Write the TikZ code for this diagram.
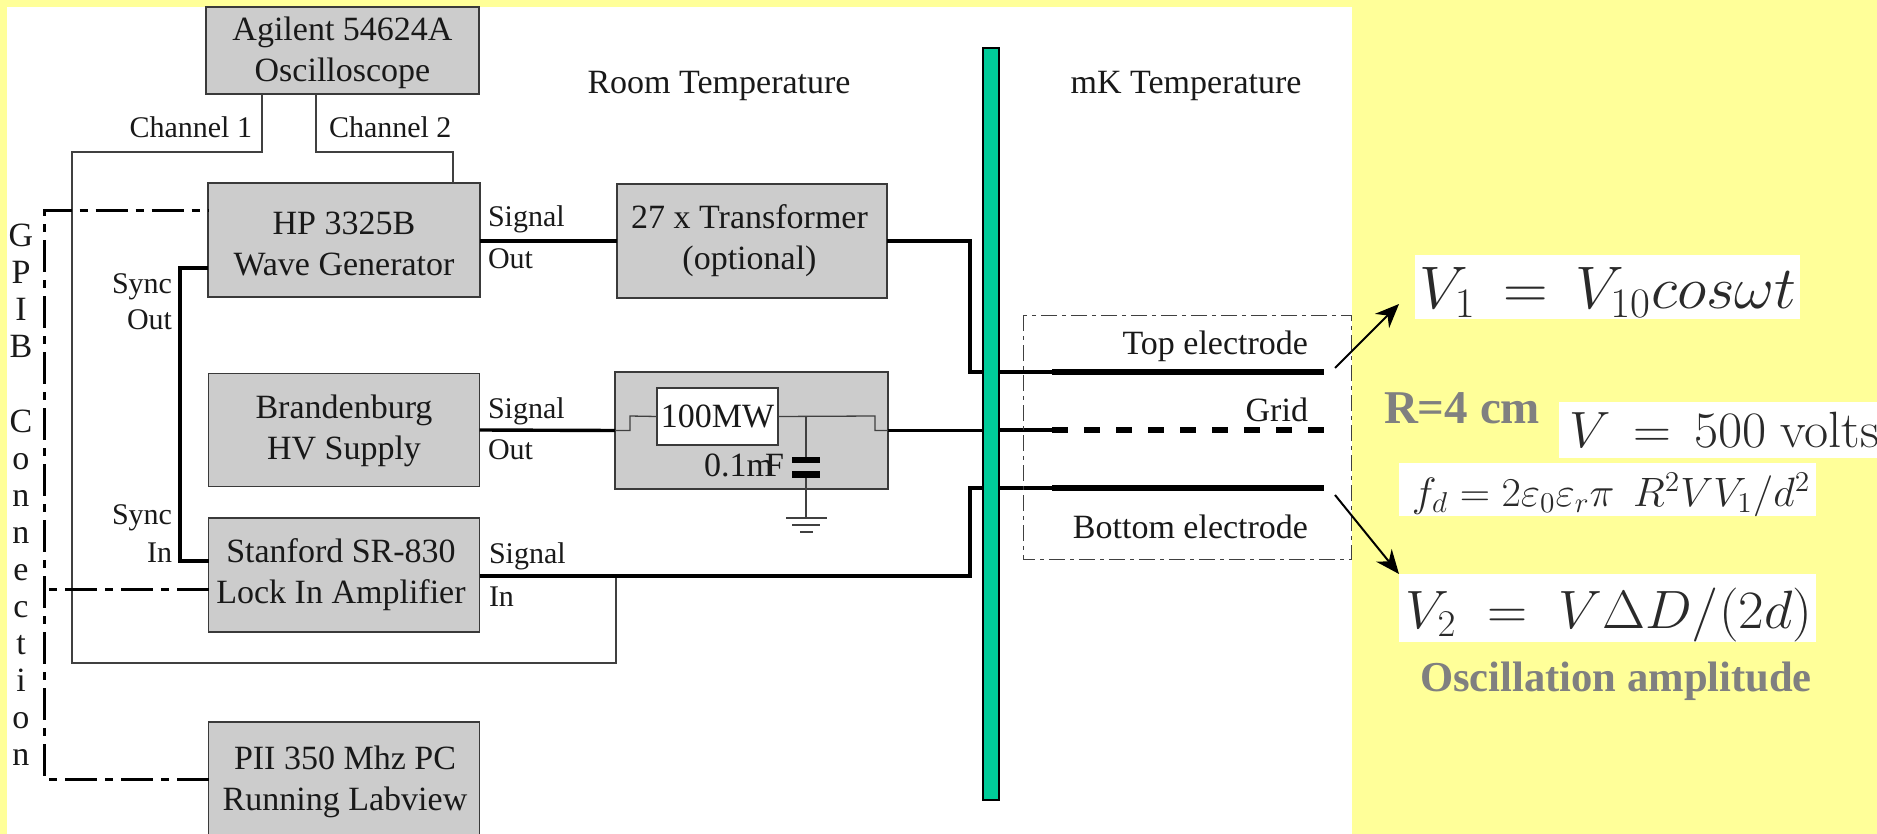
\documentclass[tikz,border=0pt]{standalone}
\usepackage{fix-cm}
\usepackage[no-math]{fontspec}
\setmainfont{Liberation Serif}
\usetikzlibrary{arrows.meta}
\definecolor{bgyellow}{HTML}{FFFF99}
\definecolor{boxfill}{HTML}{CCCCCC}
\definecolor{boxedge}{HTML}{3A3A3A}
\definecolor{barfill}{HTML}{00CC99}
\definecolor{graytext}{HTML}{808080}
\definecolor{mathtext}{HTML}{2A2A2A}
\tikzset{
  dev/.style={draw=boxedge,fill=boxfill,line width=.75pt,inner sep=0pt,outer sep=0pt},
  devtxt/.style={inner sep=0pt,outer sep=0pt,align=center,text=black!90,font=\fontsize{17}{20.5}\selectfont},
  lab/.style={inner sep=0pt,outer sep=0pt,text=black!90,font=\fontsize{15}{18}\selectfont},
  labbig/.style={inner sep=0pt,outer sep=0pt,text=black!90,font=\fontsize{17}{21}\selectfont},
  thin wire/.style={draw=black!75,line width=.65pt},
  mid wire/.style={draw=black,line width=1.6pt},
  sync wire/.style={draw=black,line width=1.7pt},
  signal wire/.style={draw=black,line width=1.7pt},
  gpib/.style={draw=black,line width=1.5pt,dash pattern=on 16pt off 4pt on 4pt off 4pt},
  plate/.style={draw=black,line width=3pt},
  mathbox/.style={fill=white,inner sep=0pt,outer sep=0pt},
  mathtxt/.style={inner sep=0pt,outer sep=0pt,text=mathtext},
  grayb/.style={inner sep=0pt,outer sep=0pt,text=graytext},
  callout/.style={draw=black,line width=1pt,-{Stealth[length=12pt,width=10pt]}}
}
\begin{document}
\begin{tikzpicture}[x=0.5pt,y=-0.5pt]
\clip (0,0) rectangle (1877,834);
\fill[bgyellow] (0,0) rectangle (1877,834);
\fill[white] (7,7) rectangle (1352,834);

% coordinates
\coordinate (topL) at (1052,372);
\coordinate (topR) at (1324,372);
\coordinate (gridL) at (1052,430);
\coordinate (gridR) at (1324,430);
\coordinate (botL) at (1052,488);
\coordinate (botR) at (1324,488);
\coordinate (gA) at (44,211);
\coordinate (gB) at (44,589);
\coordinate (gC) at (44,779);
\coordinate (ch1a) at (262,152);
\coordinate (ch1b) at (72,152);
\coordinate (ch1c) at (72,663);
\coordinate (ch1d) at (616,663);
\coordinate (ch2a) at (316,152);
\coordinate (ch2b) at (453,152);
\coordinate (syncA) at (180,268);
\coordinate (syncB) at (180,561);
\coordinate (sigR) at (970,241);
\coordinate (sigI) at (970,576);
\coordinate (rcL) at (630,416);
\coordinate (rcR) at (875,416);
\coordinate (capJ) at (806,416);
\coordinate (capT) at (806,457);
\coordinate (capB) at (806,478);
\coordinate (gnd) at (806,518);

% devices
\node[dev,minimum width=136.5pt,minimum height=43.5pt] (scope) at (342.5,50.5) {};
\node[devtxt] (scopet) at (342.5,53) {Agilent 54624A\\Oscilloscope};
\node[dev,minimum width=136pt,minimum height=57pt] (hp) at (344,240) {};
\node[devtxt] (hpt) at (344,244) {HP 3325B\\Wave Generator};
\node[dev,minimum width=135.5pt,minimum height=56.5pt] (hv) at (344,430) {};
\node[devtxt] (hvt) at (344,431) {Brandenburg\\HV Supply};
\node[dev,minimum width=135.5pt,minimum height=57pt] (lock) at (344,575) {};
\node[devtxt] (lockt) at (341,575) {Stanford SR-830\\Lock In Amplifier};
\node[dev,minimum width=135.5pt,minimum height=58pt] (pc) at (344,780) {};
\node[devtxt] (pct) at (345,782) {PII 350 Mhz PC\\Running Labview};
\node[dev,minimum width=135pt,minimum height=57pt] (trans) at (752,241) {};
\node[devtxt] (transt) at (749.5,241) {27 x Transformer\\(optional)};
\node[dev,minimum width=136.5pt,minimum height=58.5pt] (rc) at (751.5,430.5) {};
\node[dev,fill=white,minimum width=60.5pt,minimum height=28.5pt,text=black!90,font=\fontsize{17}{21}\selectfont] (res) at (717.5,416.5) {100MW};
\node[minimum width=8pt,minimum height=376pt,inner sep=0pt,outer sep=0pt,draw=black,line width=.75pt,fill=barfill] (bar) at (991,424) {};

% oscilloscope channels
\draw[thin wire] (scope.south -| ch1a) -- (ch1a) -- (ch1b) -- (ch1c) -- (ch1d) -- (ch1d |- sigI);
\draw[thin wire] (scope.south -| ch2a) -- (ch2a) -- (ch2b) -- (ch2b |- hp.north);

% GPIB
\draw[gpib] (pc.west |- gC) -- (gC) -- (gA) -- (hp.west |- gA);
\draw[gpib] (lock.west |- gB) -- (gB);

% sync
\draw[sync wire] (hp.west |- syncA) -- (syncA) -- (syncB) -- (lock.west |- syncB);

% signal paths
\draw[signal wire] (hp.east |- trans.west) -- (trans.west);
\draw[signal wire] (trans.east) -- (sigR) -- (sigR |- topL) -- (bar.west |- topL);
\draw[signal wire] (bar.east |- topL) -- (topL);
\draw[signal wire] (hv.east) -- (rc.west);
\draw[mid wire] (rc.east) -- (bar.west |- rc.east);
\draw[mid wire] (bar.east |- gridL) -- (gridL);
\draw[thin wire] (rc.west) -- (rc.west -| rcL) -- (rcL) -- (res.west);
\draw[thin wire] (res.east) -- (rcR) -- (rcR |- rc.east) -- (rc.east);
\draw[signal wire] (lock.east |- sigI) -- (sigI) -- (sigI |- botL) -- (bar.west |- botL);
\draw[signal wire] (bar.east |- botL) -- (botL);

% capacitor and ground
\draw[thin wire] (capJ) -- (capT);
\draw[thin wire] (capB) -- (gnd);
\fill[black] (792,457) rectangle (820,463);
\fill[black] (792,471) rectangle (820,478);
\draw[thin wire,line width=.6pt] (786,518) -- (827,518);
\draw[thin wire,line width=.6pt] (792,525) -- (820,525);
\draw[thin wire,line width=.6pt] (800,532) -- (813,532);
\node[labbig,anchor=east] (capl) at (784,465) {0.1m\kern-4pt F};

% electrodes
\draw[plate] (topL) -- (topR);
\draw[plate,dash pattern=on 8pt off 8pt] (gridL) -- (gridR);
\draw[plate] (botL) -- (botR);
\draw[draw=black!75,line width=.5pt,dash pattern=on 8pt off 2.5pt on 2pt off 2.5pt] (1023,315) rectangle (1351,559);

% labels
\node[labbig] (rt) at (719,86) {Room Temperature};
\node[labbig] (mk) at (1186,86) {mK Temperature};
\node[lab,anchor=east] (c1) at (252,127) {Channel 1};
\node[lab,anchor=west] (c2) at (329,127) {Channel 2};
\node[lab,anchor=west] (s1) at (488,219) {Signal};
\node[lab,anchor=west] (o1) at (488,259) {Out};
\node[lab,anchor=west] (s2) at (488,411) {Signal};
\node[lab,anchor=west] (o2) at (488,450) {Out};
\node[lab,anchor=west] (s3) at (489,556) {Signal};
\node[lab,anchor=west] (i3) at (489,597) {In};
\node[lab,anchor=east] (so1) at (172,287) {Sync};
\node[lab,anchor=east] (so2) at (172,320) {Out};
\node[lab,anchor=east] (si1) at (172,518) {Sync};
\node[lab,anchor=east] (si2) at (172,553) {In};
\node[labbig,anchor=east] (te) at (1308,346) {Top electrode};
\node[labbig,anchor=east] (gr) at (1308,410) {Grid};
\node[labbig,anchor=east] (be) at (1308,527) {Bottom electrode};
\node[inner sep=0pt,outer sep=0pt,align=center,text=black!90,font=\fontsize{17}{18.55}\selectfont] (col) at (21,495)
  {G\\P\\I\\B\\[18.55pt]C\\o\\n\\n\\e\\c\\t\\i\\o\\n};

% right-hand panel
\node[mathbox,minimum width=192.5pt,minimum height=32pt] (m1) at (1607.5,287) {};
\node[mathtxt,font=\fontsize{30}{36}\selectfont,xscale=1.03] at (1608,292) {$V_1\,=\,V_{10}cos\omega t$};
\node[mathbox,minimum width=159pt,minimum height=28pt,anchor=west] (m2) at (1559,430) {};
\node[mathtxt,font=\fontsize{25.5}{30}\selectfont,anchor=west,xscale=1.03] at (1569,430) {$V\,=\,500\ \mathrm{volts}$};
\node[mathbox,minimum width=208.5pt,minimum height=26.5pt] (m3) at (1607.5,489.5) {};
\node[mathtxt,font=\fontsize{20.5}{25}\selectfont,xscale=1.025] at (1611,495) {$f_d=2\varepsilon_0\varepsilon_r\pi\;\,R^2VV_1/d^2$};
\node[mathbox,minimum width=208.5pt,minimum height=34pt] (m4) at (1607.5,608) {};
\node[mathtxt,font=\fontsize{27}{32}\selectfont,xscale=1.03] at (1609,615) {$V_2\;=\;V\Delta D/(2d)$};
\node[grayb,font=\fontsize{23.5}{28}\selectfont\bfseries] (rr) at (1462,408) {R=4 cm};
\node[grayb,font=\fontsize{21.3}{26}\selectfont\bfseries] (oa) at (1616,681) {Oscillation amplitude};

\coordinate (a1s) at (1335,368);
\coordinate (a1e) at (1399,304);
\coordinate (a2s) at (1335,495);
\coordinate (a2e) at (1399,574);
\draw[callout] (a1s) -- (a1e);
\draw[callout] (a2s) -- (a2e);
\end{tikzpicture}
\end{document}
